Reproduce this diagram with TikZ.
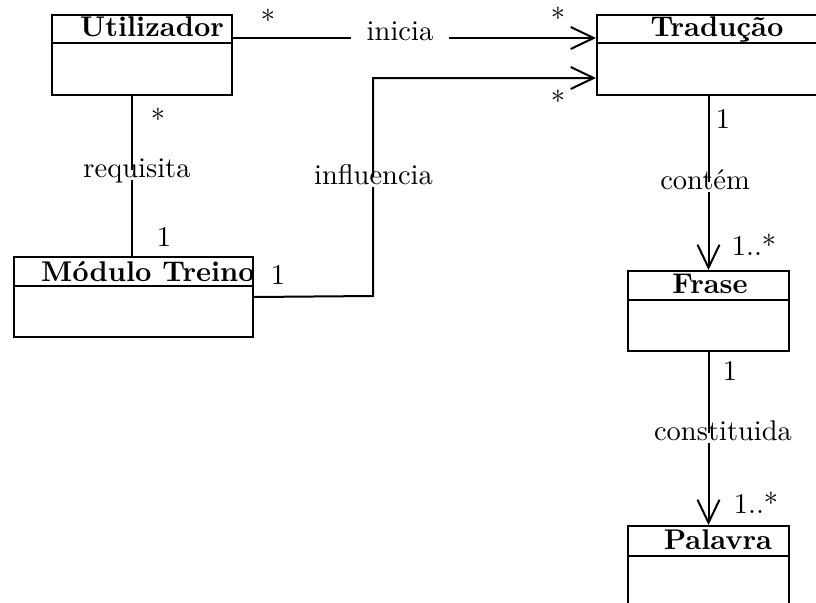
\documentclass[tikz,border=0pt]{standalone}
\usepackage{fontspec}
\setmainfont{lmroman10-regular.otf}[BoldFont=lmroman10-bold.otf]
\usetikzlibrary{arrows.meta}
\begin{document}
\begin{tikzpicture}[x=1pt,y=-1pt,
  every node/.style={font=\fontsize{28.5}{34.2}\selectfont},
  classbox/.style={draw, line width=2pt, inner sep=0pt, anchor=north west},
  classname/.style={font=\fontsize{28.5}{34.2}\selectfont\bfseries, anchor=base, inner sep=0pt},
  mult/.style={anchor=base, inner sep=0pt},
  assoc/.style={line width=2pt},
  navig/.style={assoc, -{Straight Barb[length=23pt,width=22pt]}},
  rolelabel/.style={fill=white, inner xsep=16pt, inner ysep=0pt,
                    text height=0.75em, text depth=0.33em}
]
\useasboundingbox (0,0) rectangle (816,602);
\clip (0,0) rectangle (816,602);

% classes
\node[classbox, minimum width=180pt, minimum height=80pt] (util) at (51,14) {};
\draw[assoc] ([yshift=-29pt]util.north west) -- ([yshift=-29pt]util.north east);
\node[classname] (utilName) at (152,37) {Utilizador};

\node[classbox, minimum width=222pt, minimum height=80pt] (trad) at (596,14) {};
\draw[assoc] ([yshift=-29pt]trad.north west) -- ([yshift=-29pt]trad.north east);
\node[classname] (tradName) at (717,37) {Tradução};

\node[classbox, minimum width=239pt, minimum height=80pt] (modulo) at (13,256) {};
\draw[assoc] ([yshift=-30pt]modulo.north west) -- ([yshift=-30pt]modulo.north east);
\node[classname] (moduloName) at (148,281) {Módulo Treino};

\node[classbox, minimum width=161pt, minimum height=80pt] (frase) at (627,270) {};
\draw[assoc] ([yshift=-30pt]frase.north west) -- ([yshift=-30pt]frase.north east);
\node[classname] (fraseName) at (710,293) {Frase};

\node[classbox, minimum width=161pt, minimum height=85pt] (palavra) at (627,525) {};
\draw[assoc] ([yshift=-31pt]palavra.north west) -- ([yshift=-31pt]palavra.north east);
\node[classname] (palavraName) at (718,549) {Palavra};

% associations
\coordinate (iniciaAt) at (400,38);
\draw[navig] (util.east |- iniciaAt) -- (trad.west |- iniciaAt);

\coordinate (bendLow) at (373,296);
\coordinate (bendHigh) at (373,78);
\draw[navig] (modulo.east) -- (bendLow) -- (bendHigh) -- (trad.west |- bendHigh);

\coordinate (reqLine) at (131.5,175);
\draw[assoc] (util.south -| reqLine) -- (modulo.north -| reqLine);

\draw[navig] (trad.south -| frase.north) -- (frase.north);
\draw[navig] (frase.south) -- (palavra.north);

% association names
\node[rolelabel] (inicia) at (iniciaAt) {inicia};
\node[rolelabel] (requisita) at (137,175) {requisita};
\node[rolelabel] (influencia) at (373.5,182) {influencia};
\node[rolelabel] (contem) at (705,187) {contém};
\node[rolelabel] (constituida) at (723,438) {constituida};

% multiplicities
\node[mult] (mUtilInicia) at (268,31) {*};
\node[mult] (mTradInicia) at (558,29) {*};
\node[mult] (mTradInfl) at (558,111) {*};
\node[mult] (mUtilReq) at (158,129) {*};
\node[mult] (mModReq) at (164,246) {1};
\node[mult] (mModInfl) at (278,284) {1};
\node[mult] (mTradCont) at (723,128) {1};
\node[mult] (mFraseCont) at (754,255) {1..*};
\node[mult] (mFraseConst) at (730,380) {1};
\node[mult] (mPalavra) at (756,513) {1..*};
\end{tikzpicture}
\end{document}
